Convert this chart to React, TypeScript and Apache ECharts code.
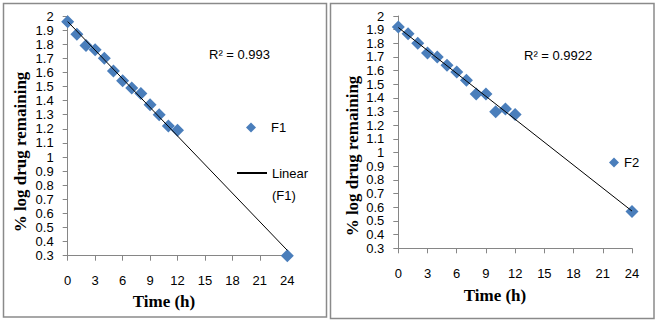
import React, { useEffect, useRef } from "react";
import * as echarts from "echarts";

// Time points (h)
const timeF1: number[] = [0, 1, 2, 3, 4, 5, 6, 7, 8, 9, 10, 11, 12, 24];
const logRemainingF1: number[] = [1.96, 1.87, 1.79, 1.76, 1.70, 1.61, 1.54, 1.49, 1.45, 1.37, 1.30, 1.22, 1.19, 0.30];
const timeF2: number[] = [0, 1, 2, 3, 4, 5, 6, 7, 8, 9, 10, 11, 12, 24];
const logRemainingF2: number[] = [1.92, 1.87, 1.80, 1.73, 1.70, 1.64, 1.59, 1.53, 1.43, 1.43, 1.30, 1.32, 1.28, 0.57];
const r2Labels: string[] = ["R² = 0.993", "R² = 0.9922"];
const xTicks = { min: 0, max: 24, interval: 3 };
const yTicks = { min: 0.3, max: 2, interval: 0.1 };

function linearFit(xs: number[], ys: number[]) {
  const n = xs.length;
  const mx = xs.reduce((a, b) => a + b, 0) / n;
  const my = ys.reduce((a, b) => a + b, 0) / n;
  let sxy = 0, sxx = 0;
  for (let i = 0; i < n; i++) {
    sxy += (xs[i] - mx) * (ys[i] - my);
    sxx += (xs[i] - mx) * (xs[i] - mx);
  }
  const slope = sxy / sxx;
  const intercept = my - slope * mx;
  const x0 = Math.min(...xs);
  const x1 = Math.max(...xs);
  return [[x0, intercept + slope * x0], [x1, intercept + slope * x1]];
}

const BLUE = "#4A7EBB";
const AXIS = "#868686";
const SANS = "Liberation Sans";
const SERIF = "Liberation Serif";

export default function App() {
  const ref = useRef<HTMLDivElement>(null);
  useEffect(() => {
    if (!ref.current) return;
    const chart = echarts.init(ref.current, null, { renderer: "svg" });
    const mkX = (gridIndex: number, margin: number) => ({
      type: "value",
      gridIndex,
      min: xTicks.min,
      max: xTicks.max,
      interval: xTicks.interval,
      axisLine: { show: true, onZero: false, lineStyle: { color: AXIS, width: 1 } },
      axisTick: { show: true, inside: false, length: 5, lineStyle: { color: AXIS } },
      axisLabel: { margin, color: "#000", fontFamily: SANS, fontSize: 13 },
      splitLine: { show: false },
    });
    const mkY = (gridIndex: number) => ({
      type: "value",
      gridIndex,
      min: yTicks.min,
      max: yTicks.max,
      interval: yTicks.interval,
      axisLine: { show: true, onZero: false, lineStyle: { color: AXIS, width: 1 } },
      axisTick: { show: true, inside: false, length: 5, lineStyle: { color: AXIS } },
      axisLabel: {
        margin: 14,
        color: "#000",
        fontFamily: SANS,
        fontSize: 13,
        formatter: (v: number) => String(parseFloat(v.toFixed(1))),
      },
      splitLine: { show: false },
    });
    const scatter = (name: string, xs: number[], ys: number[], idx: number) => ({
      name,
      type: "scatter",
      xAxisIndex: idx,
      yAxisIndex: idx,
      symbol: "diamond",
      symbolSize: 13,
      clip: false,
      itemStyle: { color: BLUE, opacity: 1 },
      data: xs.map((x, i) => [x, ys[i]]),
      z: 3,
    });
    const trend = (name: string, xs: number[], ys: number[], idx: number) => ({
      name,
      type: "line",
      xAxisIndex: idx,
      yAxisIndex: idx,
      symbol: "none",
      showSymbol: false,
      clip: false,
      lineStyle: { color: "#000", width: 1 },
      itemStyle: { color: "#000" },
      data: linearFit(xs, ys),
      z: 4,
    });
    const legendText = { fontFamily: SANS, fontSize: 13, color: "#000" };
    chart.setOption({
      animation: false,
      backgroundColor: "#fff",
      grid: [
        { left: 67.7, top: 16, width: 219.6, height: 239.7 },
        { left: 398.3, top: 16, width: 233.7, height: 232.3 },
      ],
      xAxis: [mkX(0, 18), mkX(1, 19)],
      yAxis: [mkY(0), mkY(1)],
      legend: [
        {
          orient: "vertical",
          left: 246,
          top: 121,
          padding: 0,
          itemWidth: 10,
          itemHeight: 10,
          textStyle: { ...legendText, rich: { pad: { width: 10 } } },
          formatter: (name: string) => `{pad|}${name}`,
          data: [{ name: "F1", icon: "diamond" }],
        },
        {
          orient: "vertical",
          left: 236,
          top: 140,
          padding: 0,
          itemWidth: 30,
          itemHeight: 10,
          textStyle: { ...legendText, lineHeight: 22 },
          formatter: () => "\nLinear\n(F1)",
          data: [{ name: "Linear (F1)", itemStyle: { opacity: 0 } }],
        },
        {
          orient: "vertical",
          left: 609,
          top: 156,
          padding: 0,
          itemWidth: 10,
          itemHeight: 10,
          textStyle: legendText,
          data: [{ name: "F2", icon: "diamond" }],
        },
      ],
      series: [
        scatter("F1", timeF1, logRemainingF1, 0),
        trend("Linear (F1)", timeF1, logRemainingF1, 0),
        scatter("F2", timeF2, logRemainingF2, 1),
        trend("Linear (F2)", timeF2, logRemainingF2, 1),
      ],
      graphic: [
        {
          type: "rect",
          shape: { x: 3.5, y: 3.5, width: 323, height: 313.5 },
          style: { fill: "none", stroke: "#8a8a8a", lineWidth: 1.5 },
          silent: true,
        },
        {
          type: "rect",
          shape: { x: 330.5, y: 3.5, width: 323.5, height: 315 },
          style: { fill: "none", stroke: "#8a8a8a", lineWidth: 1.5 },
          silent: true,
        },
        {
          type: "text",
          x: 209,
          y: 54,
          style: { text: r2Labels[0], font: `13px "${SANS}"`, fill: "#000", verticalAlign: "middle" },
        },
        {
          type: "text",
          x: 524,
          y: 55.5,
          style: { text: r2Labels[1], font: `13px "${SANS}"`, fill: "#000", verticalAlign: "middle" },
        },
        {
          type: "text",
          x: 164,
          y: 301.5,
          style: { text: "Time (h)", font: `bold 17px "${SERIF}"`, fill: "#000", align: "center", verticalAlign: "middle" },
        },
        {
          type: "text",
          x: 495,
          y: 295,
          style: { text: "Time (h)", font: `bold 17px "${SERIF}"`, fill: "#000", align: "center", verticalAlign: "middle" },
        },
        {
          type: "text",
          x: 20,
          y: 152,
          rotation: Math.PI / 2,
          style: { text: "% log drug remaining", font: `bold 17px "${SERIF}"`, fill: "#000", align: "center", verticalAlign: "middle" },
        },
        {
          type: "text",
          x: 352,
          y: 156,
          rotation: Math.PI / 2,
          style: { text: "% log drug remaining", font: `bold 17px "${SERIF}"`, fill: "#000", align: "center", verticalAlign: "middle" },
        },
      ],
    });
    return () => chart.dispose();
  }, []);
  return (
    <div
      ref={ref}
      style={{ position: "fixed", left: 0, top: 0, width: 658, height: 322, background: "#fff" }}
    />
  );
}
